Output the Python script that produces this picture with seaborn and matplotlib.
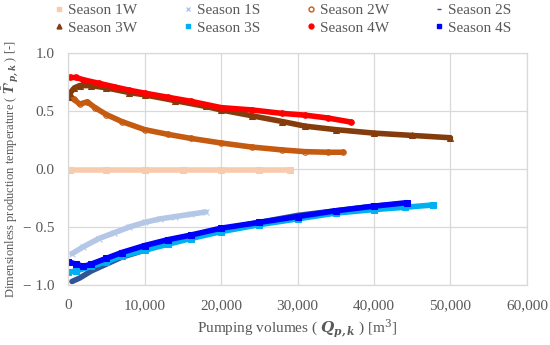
import numpy as np
import pandas as pd
import seaborn as sns
import matplotlib.pyplot as plt
from matplotlib.lines import Line2D
from matplotlib.ticker import FuncFormatter

# values (Q in m3, dimensionless temperature)
q_1w = [200, 5000, 10000, 15000, 20000, 25000, 29000]
t_1w = [-0.01, -0.01, -0.01, -0.01, -0.01, -0.01, -0.01]

q_1s = [500, 2000, 4000, 6000, 8000, 10000, 12000, 14000, 16000, 18000]
t_1s = [-0.73, -0.67, -0.60, -0.55, -0.50, -0.46, -0.43, -0.41, -0.39, -0.37]

q_2w = [300, 800, 1500, 2500, 3500, 5000, 7000, 10000, 13000, 16000, 20000, 24000, 28000, 31000, 34000, 36000]
t_2w = [0.62, 0.60, 0.56, 0.58, 0.53, 0.47, 0.41, 0.34, 0.30, 0.265, 0.225, 0.19, 0.165, 0.15, 0.145, 0.145]

q_2s = [500, 1500, 3000, 5000, 7000, 10000, 15000, 20000, 25000, 30000, 35000, 40000, 43800]
t_2s = [-0.97, -0.94, -0.88, -0.82, -0.76, -0.70, -0.60, -0.52, -0.46, -0.40, -0.36, -0.32, -0.30]

q_3w = [0, 300, 800, 1500, 3000, 5000, 8000, 10000, 14000, 18000, 20000, 24000, 28000, 31000, 35000, 40000, 45000, 50000]
t_3w = [0.62, 0.66, 0.70, 0.72, 0.72, 0.70, 0.66, 0.64, 0.59, 0.54, 0.51, 0.46, 0.41, 0.37, 0.34, 0.31, 0.29, 0.27]

q_3s = [0, 1000, 3000, 5000, 7000, 10000, 13000, 16000, 20000, 25000, 30000, 35000, 40000, 44000, 47700]
t_3s = [-0.89, -0.88, -0.84, -0.80, -0.75, -0.70, -0.65, -0.60, -0.54, -0.48, -0.43, -0.38, -0.35, -0.33, -0.31]

q_4w = [300, 1000, 2000, 4000, 6000, 8000, 10000, 13000, 16000, 20000, 24000, 28000, 31000, 34000, 37000]
t_4w = [0.79, 0.79, 0.77, 0.74, 0.71, 0.68, 0.655, 0.62, 0.585, 0.53, 0.51, 0.48, 0.465, 0.44, 0.405]

q_4s = [0, 1000, 2000, 3000, 5000, 7000, 10000, 13000, 16000, 20000, 25000, 30000, 35000, 40000, 44300]
t_4s = [-0.80, -0.82, -0.84, -0.82, -0.77, -0.72, -0.66, -0.61, -0.57, -0.51, -0.46, -0.41, -0.36, -0.32, -0.29]

seasons = ['Season 1W', 'Season 1S', 'Season 2W', 'Season 2S',
           'Season 3W', 'Season 3S', 'Season 4W', 'Season 4S']
colors = ['#f8cbad', '#b4c7e7', '#c55a11', '#2f5597',
          '#843c0c', '#00b0f0', '#ff0000', '#0000ff']
markers = ['s', 'x', 'o', '_', '^', 's', 'o', 's']
series = [(q_1w, t_1w), (q_1s, t_1s), (q_2w, t_2w), (q_2s, t_2s),
          (q_3w, t_3w), (q_3s, t_3s), (q_4w, t_4w), (q_4s, t_4s)]

sns.set_theme(style='whitegrid')
plt.rcParams['font.family'] = ['Liberation Serif', 'DejaVu Serif']
plt.rcParams['mathtext.fontset'] = 'dejavuserif'
grey = '#595959'

fig, ax = plt.subplots(figsize=(5.5, 3.45), dpi=100)
fig.subplots_adjust(left=0.124, right=0.958, top=0.846, bottom=0.174)

for name, (q, t), c, m in zip(seasons, series, colors, markers):
    df = pd.DataFrame({'Q': q, 'T': t})
    face = 'none' if name == 'Season 2W' else c
    sns.lineplot(data=df, x='Q', y='T', ax=ax, color=c, lw=4, sort=False,
                 marker=m, markersize=4, markerfacecolor=face,
                 markeredgecolor=c, legend=False)

ax.set_xlim(0, 60000)
ax.set_ylim(-1.0, 1.0)
ax.set_xticks(np.arange(0, 60001, 10000))
ax.set_yticks([-1.0, -0.5, 0.0, 0.5, 1.0])
ax.xaxis.set_major_formatter(FuncFormatter(lambda v, p: f'{v:,.0f}'))
ax.yaxis.set_major_formatter(FuncFormatter(lambda v, p: f'{v:.1f}'.replace('-', '\u2212 ')))
ax.tick_params(colors=grey, labelsize=11, length=0)
ax.tick_params(axis='y', pad=10)
ax.tick_params(axis='x', pad=10)
ax.grid(True, color='#d9d9d9', lw=0.9)
for s in ax.spines.values():
    s.set_color('#d9d9d9')
    s.set_linewidth(0.9)

ax.set_xlabel(r'Pumping volumes ( $\mathbfit{Q}_{\mathbfit{p,k}}$ ) [m$^3$]',
              color=grey, fontsize=11, labelpad=4)
ax.set_ylabel(r"Dimensionless production temperature ( $\bar{\mathbfit{T}}'_{\mathbfit{p,k}}$ ) [-]",
              color=grey, fontsize=9, labelpad=1)

# legend filled column by column, so reorder to read row-wise
order = [0, 4, 1, 5, 2, 6, 3, 7]
handles = [Line2D([], [], ls='none', marker=markers[i], color=colors[i], markersize=3.5,
                  markerfacecolor=('none' if seasons[i] == 'Season 2W' else colors[i]))
           for i in order]
ax.legend(handles, [seasons[i] for i in order], ncol=4, loc='lower left',
          bbox_to_anchor=(-0.05, 1.04), frameon=False, fontsize=11, labelcolor=grey,
          handlelength=0.6, handletextpad=0.3, columnspacing=3.0,
          borderaxespad=0.2, labelspacing=0.25)

fig.savefig('out.png', dpi=100)
